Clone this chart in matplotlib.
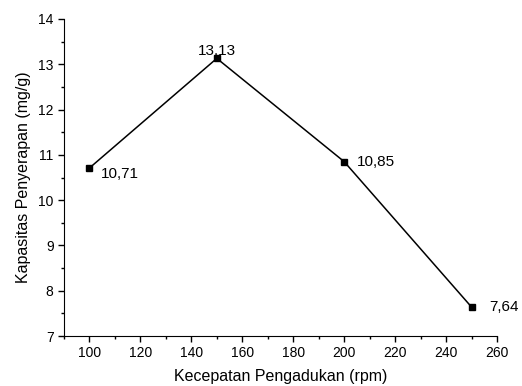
import matplotlib
matplotlib.use("Agg")
from matplotlib import pyplot as plt
from matplotlib.ticker import MultipleLocator

plt.rcParams['font.family'] = ['Liberation Sans', 'DejaVu Sans']

# data
speed = [100, 150, 200, 250]
capacity = [10.71, 13.13, 10.85, 7.64]
labels = ["10,71", "13,13", "10,85", "7,64"]

fig = plt.figure(figsize=(5.22, 3.86), dpi=100)
ax = fig.add_axes([0.1226, 0.1295, 0.8295, 0.8213])

ax.plot(speed, capacity, color='black', lw=1.1, marker='s', ms=5, mfc='black', mec='black')

# value labels
offsets = [(8, -4.5), (0, 2.5), (9.5, 0), (12.5, 0)]
aligns = [('left', 'center'), ('center', 'baseline'), ('left', 'center'), ('left', 'center')]
for x, y, t, off, al in zip(speed, capacity, labels, offsets, aligns):
    ax.annotate(t, (x, y), xytext=off, textcoords='offset points',
                ha=al[0], va=al[1], fontsize=11)

ax.set_xlim(90, 260)
ax.set_ylim(7, 14)
ax.xaxis.set_major_locator(MultipleLocator(20))
ax.xaxis.set_minor_locator(MultipleLocator(10))
ax.yaxis.set_major_locator(MultipleLocator(1))
ax.yaxis.set_minor_locator(MultipleLocator(0.5))
ax.tick_params(which='major', direction='out', length=4, width=1, labelsize=10)
ax.tick_params(which='minor', direction='out', length=2.5, width=1)

ax.spines['top'].set_visible(False)
ax.spines['right'].set_visible(False)

ax.set_xlabel("Kecepatan Pengadukan (rpm)", fontsize=11.5, labelpad=6)
ax.set_ylabel("Kapasitas Penyerapan (mg/g)", fontsize=11.5, labelpad=5)

fig.savefig("out.png", dpi=100)
